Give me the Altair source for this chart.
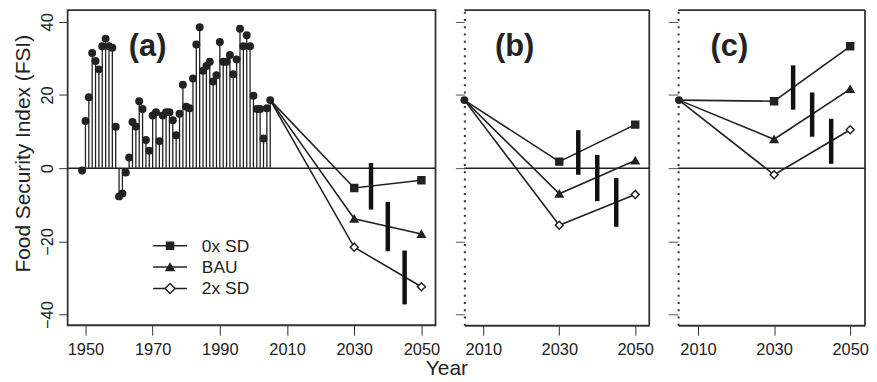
import altair as alt
import pandas as pd

# ---------------- data ----------------
hist_years = list(range(1949, 2006))
hist_fsi = [-0.6, 12.9, 19.4, 31.5, 29.3, 27.0, 33.3, 35.4, 33.3, 32.9,
            11.3, -7.7, -6.9, -1.2, 2.9, 12.6, 11.4, 18.3, 16.2, 7.7,
            4.8, 14.4, 15.3, 7.4, 14.4, 15.3, 15.3, 13.1, 9.0, 14.9,
            22.8, 16.8, 16.4, 24.5, 33.8, 38.5, 26.6, 27.9, 29.1, 23.7,
            25.4, 34.5, 29.1, 29.1, 30.9, 25.7, 29.7, 38.1, 33.3, 36.3,
            33.3, 19.8, 16.2, 16.2, 8.1, 16.4, 18.6]

scenarios = ["0x SD", "BAU", "2x SD"]
start_year = 2005
start_fsi = 18.6
proj_years = [2030, 2050]

proj_a = {"0x SD": [-5.4, -3.3], "BAU": [-13.8, -18.0], "2x SD": [-21.6, -32.4]}
proj_b = {"0x SD": [1.8, 11.9], "BAU": [-7.0, 2.1], "2x SD": [-15.6, -7.2]}
proj_c = {"0x SD": [18.3, 33.3], "BAU": [7.9, 21.6], "2x SD": [-1.8, 10.5]}

bar_years = [2035, 2040, 2045]
bar_a_low = [-11.3, -22.7, -37.2]
bar_a_high = [1.4, -9.2, -22.5]
bar_b_low = [-1.8, -9.0, -16.0]
bar_b_high = [10.4, 3.6, -2.7]
bar_c_low = [16.0, 8.6, 1.2]
bar_c_high = [28.1, 20.7, 13.5]

y_ticks = [-40, -20, 0, 20, 40]
x_ticks_a = [1950, 1970, 1990, 2010, 2030, 2050]
x_ticks_bc = [2010, 2030, 2050]
panel_labels = ["(a)", "(b)", "(c)"]

# ---------------- style ----------------
INK = "#222222"
FRAME = "#333333"
FONT = "Liberation Sans"
Y_DOMAIN = [-42.9, 43.2]
H = 317

shape_scale = alt.Scale(domain=scenarios, range=["square", "triangle-up", "diamond"])
fill_scale = alt.Scale(domain=scenarios, range=[INK, INK, "white"])
size_scale = alt.Scale(domain=scenarios, range=[49, 64, 100])
legend_shapes = ["square", "triangle-up", "diamond"]
legend_fills = [INK, INK, "white"]
legend_sizes = [49, 64, 100]


def proj_frame(proj):
    rows = []
    for s in scenarios:
        rows.append({"scenario": s, "year": start_year, "fsi": start_fsi})
        for yr, v in zip(proj_years, proj[s]):
            rows.append({"scenario": s, "year": yr, "fsi": v})
    return pd.DataFrame(rows)


def make_panel(xdomain, xticks, proj, lows, highs, label, label_x, width, first, ytick_size=9):
    xs = alt.Scale(domain=xdomain, nice=False, zero=False)
    ys = alt.Scale(domain=Y_DOMAIN, nice=False, zero=False)
    if first:
        x_axis = alt.Axis(values=xticks, format="d", tickSize=10, tickColor=FRAME, tickWidth=1,
                          labelFontSize=16.5, labelPadding=6, labelColor=INK, domain=False, grid=False,
                          title="Year", titleX=381, titleY=50, titleBaseline="alphabetic",
                          titleAlign="center", titleFontSize=21, titleFontWeight="normal",
                          titleColor=INK)
        y_axis = alt.Axis(values=y_ticks, format="d", tickSize=9, tickColor=FRAME, tickWidth=1,
                          labelFontSize=16.5, labelAngle=270, labelAlign="center",
                          labelBaseline="alphabetic", labelPadding=6, labelColor=INK,
                          domain=False, grid=False,
                          title="Food Security Index (FSI)", titleAngle=270, titleX=-34, titleY=144,
                          titleBaseline="bottom", titleAlign="center", titleFontSize=21,
                          titleFontWeight="normal", titleColor=INK)
    else:
        x_axis = alt.Axis(values=xticks, format="d", tickSize=10, tickColor=FRAME, tickWidth=1,
                          labelFontSize=16.5, labelPadding=6, labelColor=INK, domain=True,
                          domainColor=FRAME, domainWidth=1.8, grid=False, title=None)
        y_axis = alt.Axis(values=y_ticks, labels=False, tickSize=ytick_size, tickColor="#555555",
                          tickWidth=1, domain=True, domainDash=[2, 5.3], domainWidth=2,
                          domainColor=FRAME, grid=False, title=None)

    layers = []
    zero = alt.Chart(pd.DataFrame({"z": [0]})).mark_rule(color=INK, strokeWidth=1.5).encode(
        y=alt.Y("z:Q", scale=ys, axis=y_axis))
    layers.append(zero)

    if first:
        hist = pd.DataFrame({"year": hist_years, "fsi": hist_fsi})
        stems = alt.Chart(hist).mark_rule(color=INK, strokeWidth=1.3).encode(
            x=alt.X("year:Q", scale=xs, axis=x_axis),
            y=alt.Y("fsi:Q", scale=ys),
            y2=alt.datum(0))
        dots = alt.Chart(hist).mark_circle(color=INK, size=64, opacity=1).encode(
            x=alt.X("year:Q", scale=xs), y=alt.Y("fsi:Q", scale=ys))
        layers += [stems, dots]

    pf = proj_frame(proj)
    lines = alt.Chart(pf).mark_line(color=INK, strokeWidth=1.6).encode(
        x=alt.X("year:Q", scale=xs, axis=x_axis),
        y=alt.Y("fsi:Q", scale=ys),
        detail="scenario:N")
    layers.append(lines)

    bars = pd.DataFrame({"year": bar_years, "low": lows, "high": highs})
    ebar = alt.Chart(bars).mark_rule(color="#111111", strokeWidth=4.5, strokeCap="butt").encode(
        x=alt.X("year:Q", scale=xs), y=alt.Y("low:Q", scale=ys), y2="high:Q")
    layers.append(ebar)

    pts = alt.Chart(pf[pf["year"] != start_year]).mark_point(
        stroke=INK, strokeWidth=1.5, opacity=1, filled=False).encode(
        x=alt.X("year:Q", scale=xs), y=alt.Y("fsi:Q", scale=ys),
        shape=alt.Shape("scenario:N", scale=shape_scale, legend=None),
        fill=alt.Fill("scenario:N", scale=fill_scale, legend=None),
        size=alt.Size("scenario:N", scale=size_scale, legend=None))
    layers.append(pts)

    if not first:
        start = alt.Chart(pd.DataFrame({"year": [start_year], "fsi": [start_fsi]})).mark_circle(
            color=INK, size=64, opacity=1).encode(
            x=alt.X("year:Q", scale=xs), y=alt.Y("fsi:Q", scale=ys))
        layers.append(start)
        top = alt.Chart(pd.DataFrame({"k": [0]})).mark_rule(color=FRAME, strokeWidth=1.8).encode(
            y=alt.value(0))
        right = alt.Chart(pd.DataFrame({"k": [0]})).mark_rule(color=FRAME, strokeWidth=1.8).encode(
            x=alt.value(width))
        layers += [top, right]

    if first:
        for i, s in enumerate(scenarios):
            ly = 237 + 21.5 * i
            d = pd.DataFrame({"scenario": [s]})
            layers.append(alt.Chart(d).mark_rule(color=INK, strokeWidth=1.6).encode(
                x=alt.value(86), x2=alt.value(120), y=alt.value(ly)))
            layers.append(alt.Chart(d).mark_point(
                shape=legend_shapes[i], size=legend_sizes[i], fill=legend_fills[i],
                stroke=INK, strokeWidth=1.5, opacity=1, filled=False).encode(
                x=alt.value(103), y=alt.value(ly)))
            layers.append(alt.Chart(d).mark_text(
                align="left", baseline="middle", fontSize=17.5, color=INK, font=FONT).encode(
                x=alt.value(135), y=alt.value(ly + 1), text="scenario:N"))

    lab = alt.Chart(pd.DataFrame({"label": [label]})).mark_text(
        align="center", baseline="alphabetic", fontSize=31, fontWeight="bold",
        color=INK, font=FONT).encode(
        x=alt.value(label_x), y=alt.value(46), text="label:N")
    layers.append(lab)

    if first:
        view = alt.ViewBackground(stroke=FRAME, strokeWidth=1.8)
    else:
        view = alt.ViewBackground(stroke="transparent", strokeWidth=0)
    return alt.layer(*layers).properties(width=width, height=H, view=view)


pa = make_panel([1944.7, 2054.2], x_ticks_a, proj_a, bar_a_low, bar_a_high,
                panel_labels[0], 80.5, 370, True)
pb = make_panel([2005.0, 2053.7], x_ticks_bc, proj_b, bar_b_low, bar_b_high,
                panel_labels[1], 50.5, 186, False, ytick_size=9)
pc = make_panel([2004.77, 2053.9], x_ticks_bc, proj_c, bar_c_low, bar_c_high,
                panel_labels[2], 51.5, 188, False, ytick_size=10)

chart = alt.hconcat(pa, pb, pc, spacing=29, bounds="flush").resolve_scale(
    x="independent", y="independent").properties(
    padding={"left": 4, "top": 0, "right": 0, "bottom": 0}).configure(
    font=FONT).configure_axis(labelFont=FONT, titleFont=FONT)

chart.save("out.html", embed_options={"renderer": "svg", "actions": False})
